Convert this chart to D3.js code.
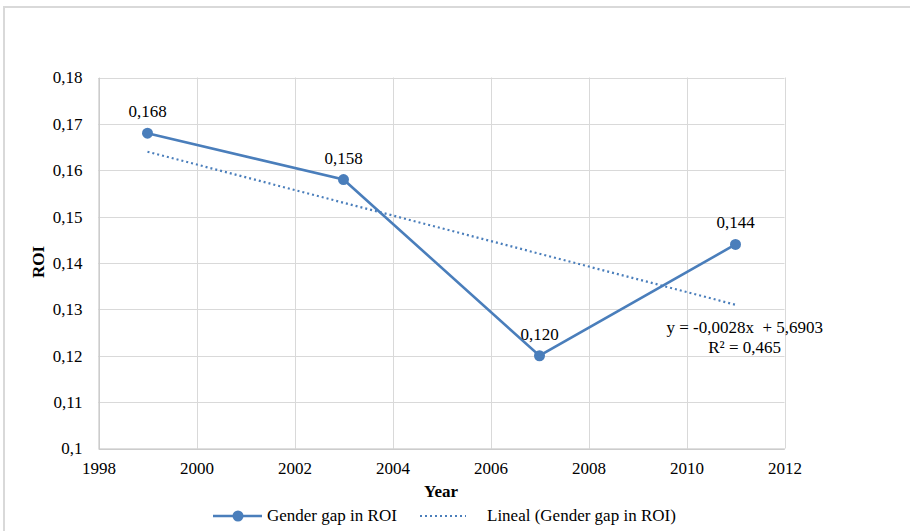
<!DOCTYPE html>
<html>
<head>
<meta charset="utf-8">
<script src="https://cdn.jsdelivr.net/npm/d3@7"></script>
<style>
  html, body { margin: 0; padding: 0; background: #fff; }
  svg { display: block; }
  svg text { font-family: "Liberation Serif", "Times New Roman", Times, "DejaVu Serif", serif !important; fill: #000; }
</style>
</head>
<body>
<svg id="chart" width="910" height="531"></svg>
<script>
const years = [1999, 2003, 2007, 2011];
const roiGap = [0.168, 0.158, 0.120, 0.144];
const dataLabels = ["0,168", "0,158", "0,120", "0,144"];
const xTicks = [1998, 2000, 2002, 2004, 2006, 2008, 2010, 2012];
const yTicks = [0.10, 0.11, 0.12, 0.13, 0.14, 0.15, 0.16, 0.17, 0.18];
const yTickLabels = ["0,1", "0,11", "0,12", "0,13", "0,14", "0,15", "0,16", "0,17", "0,18"];
const seriesName = "Gender gap in ROI";
const trendName = "Lineal (Gender gap in ROI)";
const equationLines = ["y = -0,0028x  + 5,6903", "R² = 0,465"];
const xTitle = "Year";
const yTitle = "ROI";

const blue = "#4a7ebb";
const FS = 17;
const svg = d3.select("#chart");

// outer chart border (left and top visible)
svg.append("line").attr("x1", 4).attr("x2", 4).attr("y1", 6).attr("y2", 531)
  .attr("stroke", "#d9d9d9").attr("stroke-width", 2);
svg.append("line").attr("x1", 3).attr("x2", 910).attr("y1", 7).attr("y2", 7)
  .attr("stroke", "#d9d9d9").attr("stroke-width", 2);

const plot = { left: 98.5, right: 784.5, top: 77.5, bottom: 448.5 };
const x = d3.scaleLinear().domain([1998, 2012]).range([plot.left, plot.right]);
const y = d3.scaleLinear().domain([0.10, 0.18]).range([plot.bottom, plot.top]);

// gridlines
const grid = svg.append("g");
grid.selectAll(".hg").data(yTicks).join("line")
  .attr("x1", plot.left).attr("x2", plot.right)
  .attr("y1", d => Math.round(y(d)) + 0.5).attr("y2", d => Math.round(y(d)) + 0.5)
  .attr("stroke", "#d9d9d9").attr("stroke-width", 1);
grid.selectAll(".vg").data(xTicks).join("line")
  .attr("y1", plot.top).attr("y2", plot.bottom)
  .attr("x1", d => Math.round(x(d)) + 0.5).attr("x2", d => Math.round(x(d)) + 0.5)
  .attr("stroke", "#d9d9d9").attr("stroke-width", 1);

// axes
const xAxis = d3.axisBottom(x).tickValues(xTicks).tickSize(0).tickPadding(13).tickFormat(d3.format("d"));
const gx = svg.append("g").attr("transform", `translate(0,${plot.bottom})`).call(xAxis);
gx.attr("font-size", FS).attr("font-family", null);
gx.select(".domain").attr("stroke", "#bfbfbf");

const yAxis = d3.axisLeft(y).tickValues(yTicks).tickSize(0).tickPadding(16)
  .tickFormat((d, i) => yTickLabels[i]);
const gy = svg.append("g").attr("transform", `translate(${plot.left},0)`).call(yAxis);
gy.attr("font-size", FS).attr("font-family", null);
gy.select(".domain").attr("stroke", "#bfbfbf");

// axis titles
svg.append("text").attr("x", 441).attr("y", 497).attr("text-anchor", "middle")
  .attr("font-size", FS).attr("font-weight", "bold").text(xTitle);
svg.append("text").attr("transform", "translate(44,262) rotate(-90)").attr("text-anchor", "middle")
  .attr("font-size", FS).attr("font-weight", "bold").text(yTitle);

// linear trend (least squares from the data)
const mx = d3.mean(years), my = d3.mean(roiGap);
const slope = d3.sum(years.map((v, i) => (v - mx) * (roiGap[i] - my))) / d3.sum(years.map(v => (v - mx) ** 2));
const icpt = my - slope * mx;
const trendX = d3.extent(years);
svg.append("path")
  .datum(trendX)
  .attr("d", d3.line().x(d => x(d)).y(d => y(icpt + slope * d)))
  .attr("fill", "none").attr("stroke", blue).attr("stroke-width", 2.2)
  .attr("stroke-dasharray", "2,3");

// series line
const pts = years.map((v, i) => [v, roiGap[i]]);
svg.append("path").datum(pts)
  .attr("d", d3.line().x(d => x(d[0])).y(d => y(d[1])))
  .attr("fill", "none").attr("stroke", blue).attr("stroke-width", 2.6);
svg.selectAll(".mk").data(pts).join("circle")
  .attr("cx", d => x(d[0])).attr("cy", d => y(d[1])).attr("r", 5.5).attr("fill", blue);

// data labels
svg.selectAll(".dl").data(pts).join("text")
  .attr("x", d => x(d[0])).attr("y", d => y(d[1]) - 16)
  .attr("text-anchor", "middle").attr("font-size", FS)
  .text((d, i) => dataLabels[i]);

// equation
svg.append("text").attr("x", 823).attr("y", 333).attr("text-anchor", "end")
  .attr("font-size", FS).style("white-space", "pre").text(equationLines[0]);
svg.append("text").attr("x", 781).attr("y", 353).attr("text-anchor", "end")
  .attr("font-size", FS).text(equationLines[1]);

// legend
const lg = svg.append("g");
lg.append("line").attr("x1", 213).attr("x2", 262).attr("y1", 516).attr("y2", 516)
  .attr("stroke", blue).attr("stroke-width", 2.6);
lg.append("circle").attr("cx", 238).attr("cy", 516).attr("r", 5.5).attr("fill", blue);
lg.append("text").attr("x", 267).attr("y", 521).attr("font-size", FS).text(seriesName);
lg.append("line").attr("x1", 420).attr("x2", 466).attr("y1", 516).attr("y2", 516)
  .attr("stroke", blue).attr("stroke-width", 2).attr("stroke-dasharray", "2,3");
lg.append("text").attr("x", 487).attr("y", 521).attr("font-size", FS).text(trendName);
</script>
</body>
</html>
